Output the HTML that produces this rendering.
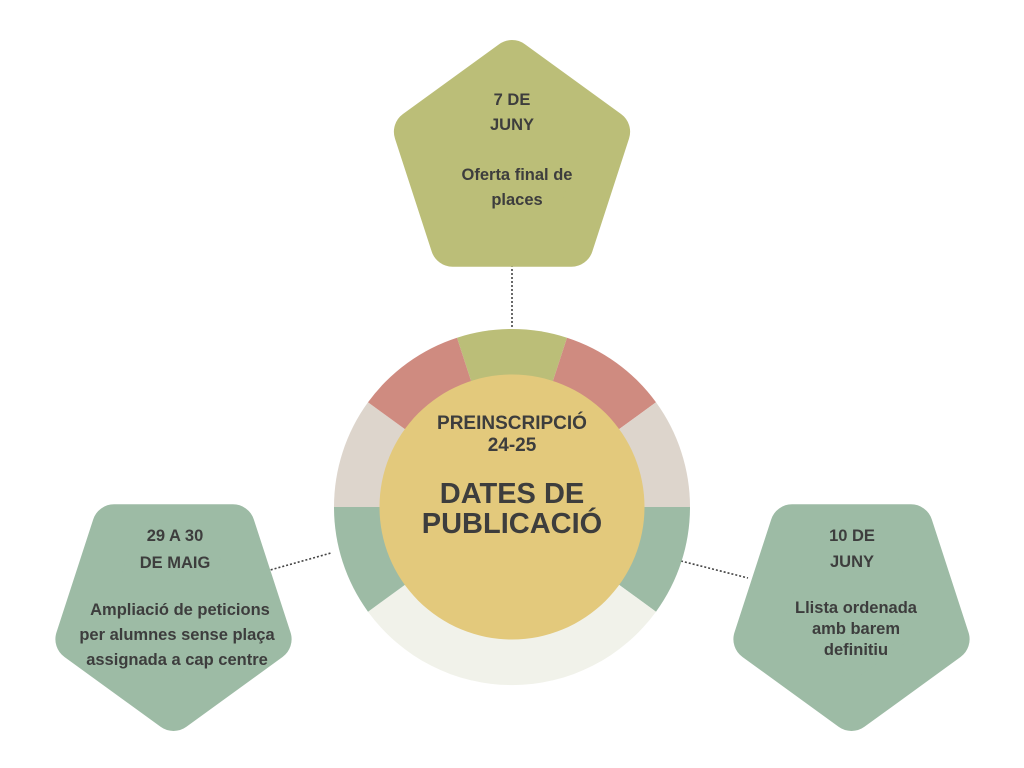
<!DOCTYPE html>
<html><head><meta charset="utf-8"><style>
html,body{margin:0;padding:0;background:#fff;}
svg{display:block;}
text{font-family:"Liberation Sans",sans-serif;font-weight:bold;fill:#3d3d3d;text-anchor:middle;}
</style></head><body>
<svg width="1024" height="768" viewBox="0 0 1024 768">
<rect width="1024" height="768" fill="#fff"/>
<g stroke="#444" stroke-width="1.6" stroke-dasharray="2,2" fill="none">
<line x1="512" y1="265" x2="512" y2="327"/>
<line x1="263" y1="572" x2="331" y2="553"/>
<line x1="681" y1="561" x2="748" y2="578"/>
</g>
<path d="M512,507 L457,337.7 A178,178 0 0 1 567,337.7 Z" fill="#bbbe78"/>
<path d="M512,507 L567,337.7 A178,178 0 0 1 656,402.3 Z" fill="#cf8b80"/>
<path d="M512,507 L656,402.3 A178,178 0 0 1 690,507 Z" fill="#ddd5cc"/>
<path d="M512,507 L690,507 A178,178 0 0 1 656,611.7 Z" fill="#9dbba5"/>
<path d="M512,507 L656,611.7 A178,178 0 0 1 368,611.7 Z" fill="#f1f2ea"/>
<path d="M512,507 L368,611.7 A178,178 0 0 1 334,507 Z" fill="#9dbba5"/>
<path d="M512,507 L334,507 A178,178 0 0 1 368,402.3 Z" fill="#ddd5cc"/>
<path d="M512,507 L368,402.3 A178,178 0 0 1 457,337.7 Z" fill="#cf8b80"/>
<circle cx="512" cy="507" r="132.5" fill="#e3c97c"/>
<text x="512" y="429" font-size="19">PREINSCRIPCIÓ</text>
<text x="512" y="451" font-size="19">24-25</text>
<text x="512" y="503" font-size="29">DATES DE</text>
<text x="512" y="533" font-size="29">PUBLICACIÓ</text>
<polygon points="512,62 608.1,131.8 571.4,244.7 452.6,244.7 415.9,131.8" fill="#bbbe78" stroke="#bbbe78" stroke-width="44" stroke-linejoin="round"/>
<polygon points="173.5,709 77.4,639.2 114.1,526.3 232.9,526.3 269.6,639.2" fill="#9dbba5" stroke="#9dbba5" stroke-width="44" stroke-linejoin="round"/>
<polygon points="851.5,709 755.4,639.2 792.1,526.3 910.9,526.3 947.6,639.2" fill="#9dbba5" stroke="#9dbba5" stroke-width="44" stroke-linejoin="round"/>
<g font-size="16.5">
<text x="512" y="105">7 DE</text>
<text x="512" y="130">JUNY</text>
<text x="517" y="180">Oferta final de</text>
<text x="517" y="205">places</text>
<text x="175" y="541">29 A 30</text>
<text x="175" y="568">DE MAIG</text>
<text x="180" y="615">Ampliació de peticions</text>
<text x="177" y="640">per alumnes sense plaça</text>
<text x="177" y="665">assignada a cap centre</text>
<text x="852" y="541">10 DE</text>
<text x="852" y="567">JUNY</text>
<text x="856" y="613">Llista ordenada</text>
<text x="856" y="634">amb barem</text>
<text x="856" y="655">definitiu</text>
</g>
</svg>
</body></html>
